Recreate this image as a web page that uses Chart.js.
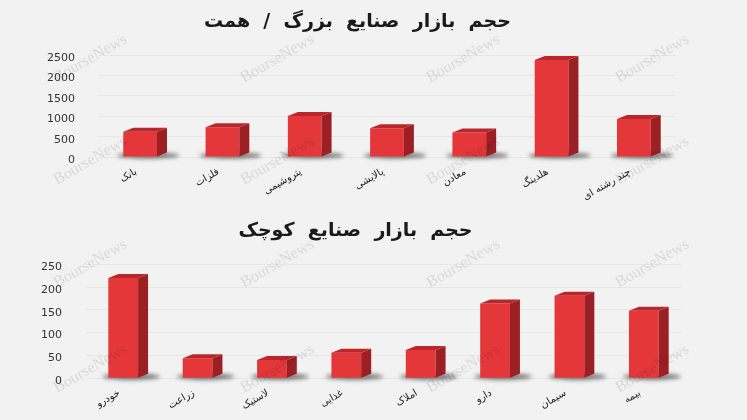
<!DOCTYPE html>
<html>
<head>
<meta charset="utf-8">
<script src="https://cdn.jsdelivr.net/npm/chart.js@4.4.1/dist/chart.umd.min.js"></script>
<style>
  html, body { margin: 0; padding: 0; background: #f2f2f2; }
  #wrap { position: relative; width: 747px; height: 420px; overflow: hidden; }
  .box { position: absolute; left: 0; width: 747px; }
  .wm {
    position: absolute; pointer-events: none; white-space: nowrap;
    font-family: "Liberation Serif", serif; font-size: 16px;
    color: rgba(0, 0, 0, 0.11);
    transform: translate(-50%, -50%) rotate(-30deg);
  }
</style>
</head>
<body>
<div id="wrap">
  <div class="box" style="top:0;height:207px"><canvas id="big"></canvas></div>
  <div class="box" style="top:207px;height:213px"><canvas id="small"></canvas></div>
</div>
<script>
// data
const bigTitle = 'حجم  بازار  صنایع  بزرگ  /  همت';
const bigLabels = ['بانک', 'فلزات', 'پتروشیمی', 'پالایشی', 'معادن', 'هلدینگ', 'چند رشته ای'];
const bigValues = [620, 730, 1010, 705, 600, 2385, 935];

const smallTitle = 'حجم  بازار  صنایع  کوچک';
const smallLabels = ['خودرو', 'زراعت', 'لاستیک', 'غذایی', 'املاک', 'دارو', 'سیمان', 'بیمه'];
const smallValues = [220, 44, 40, 56, 62, 164, 181, 148];

// watermark spots (page pixels)
const wmX = [90, 277, 463, 652];
const wmY = [58, 160, 263, 368];
const wrap = document.getElementById('wrap');
wmY.forEach(y => wmX.forEach(x => {
  const s = document.createElement('span');
  s.className = 'wm';
  s.textContent = 'BourseNews';
  s.style.left = x + 'px';
  s.style.top = y + 'px';
  wrap.appendChild(s);
}));

// fake 3d: floor shadow, right side and top faces
const bars3d = {
  id: 'bars3d',
  beforeDatasetsDraw(chart) {
    const ctx = chart.ctx;
    chart.getDatasetMeta(0).data.forEach(bar => {
      const half = bar.width / 2;
      ctx.save();
      ctx.filter = 'blur(2px)';
      ctx.fillStyle = 'rgba(40,40,40,0.65)';
      ctx.beginPath();
      ctx.ellipse(bar.x + 8, bar.base - 1, half + 14, 3, 0, 0, Math.PI * 2);
      ctx.fill();
      ctx.restore();
    });
  },
  afterDatasetsDraw(chart) {
    const ctx = chart.ctx;
    const dx = 10, dy = 4;
    chart.getDatasetMeta(0).data.forEach(bar => {
      const l = bar.x - bar.width / 2, r = bar.x + bar.width / 2;
      const t = bar.y, b = bar.base;
      ctx.fillStyle = '#9c1f23';
      ctx.beginPath();
      ctx.moveTo(r, t); ctx.lineTo(r + dx, t - dy); ctx.lineTo(r + dx, b - dy); ctx.lineTo(r, b);
      ctx.closePath(); ctx.fill();
      ctx.fillStyle = '#b9272b';
      ctx.beginPath();
      ctx.moveTo(l, t); ctx.lineTo(l + dx, t - dy); ctx.lineTo(r + dx, t - dy); ctx.lineTo(r, t);
      ctx.closePath(); ctx.fill();
    });
  }
};

function makeChart(id, title, labels, values, o) {
  return new Chart(document.getElementById(id), {
    type: 'bar',
    data: {
      labels: labels,
      datasets: [{
        data: values,
        backgroundColor: '#e3373a',
        borderWidth: 0,
        barPercentage: o.bar,
        categoryPercentage: 1,
      }],
    },
    options: {
      responsive: true,
      maintainAspectRatio: false,
      animation: false,
      layout: { padding: { left: o.left, right: o.right, top: 0, bottom: 0 } },
      plugins: {
        legend: { display: false },
        tooltip: { enabled: false },
        title: {
          display: true,
          text: title,
          color: '#1a1a1a',
          font: { family: 'DejaVu Sans', size: 19, weight: 'bold' },
          padding: { top: o.titleTop, bottom: o.titleBottom },
        },
      },
      scales: {
        x: {
          grid: { display: false },
          border: { display: false },
          ticks: {
            autoSkip: false, minRotation: 30, maxRotation: 30, padding: 1, labelOffset: -4,
            color: '#222', font: { family: 'DejaVu Sans', size: 10 },
          },
          afterFit(axis) { axis.height = o.xHeight; },
        },
        y: {
          min: 0, max: o.max,
          grid: { color: '#e6e6e6', drawTicks: false },
          border: { display: false },
          ticks: {
            stepSize: o.step, padding: 24, labelOffset: 3,
            color: '#333', font: { family: 'DejaVu Sans', size: 11 },
            callback: v => String(v),
          },
          afterFit(axis) { axis.width = o.yWidth; },
        },
      },
    },
    plugins: [bars3d],
  });
}

makeChart('big', bigTitle, bigLabels, bigValues, {
  max: 2500, step: 500, bar: 0.41,
  left: 40, yWidth: 59, right: 72,
  titleTop: 11, titleBottom: 21.5, xHeight: 50,
});

makeChart('small', smallTitle, smallLabels, smallValues, {
  max: 250, step: 50, bar: 0.40,
  left: 30, yWidth: 56, right: 66,
  titleTop: 13, titleBottom: 21.4, xHeight: 41.8,
});
</script>
</body>
</html>
